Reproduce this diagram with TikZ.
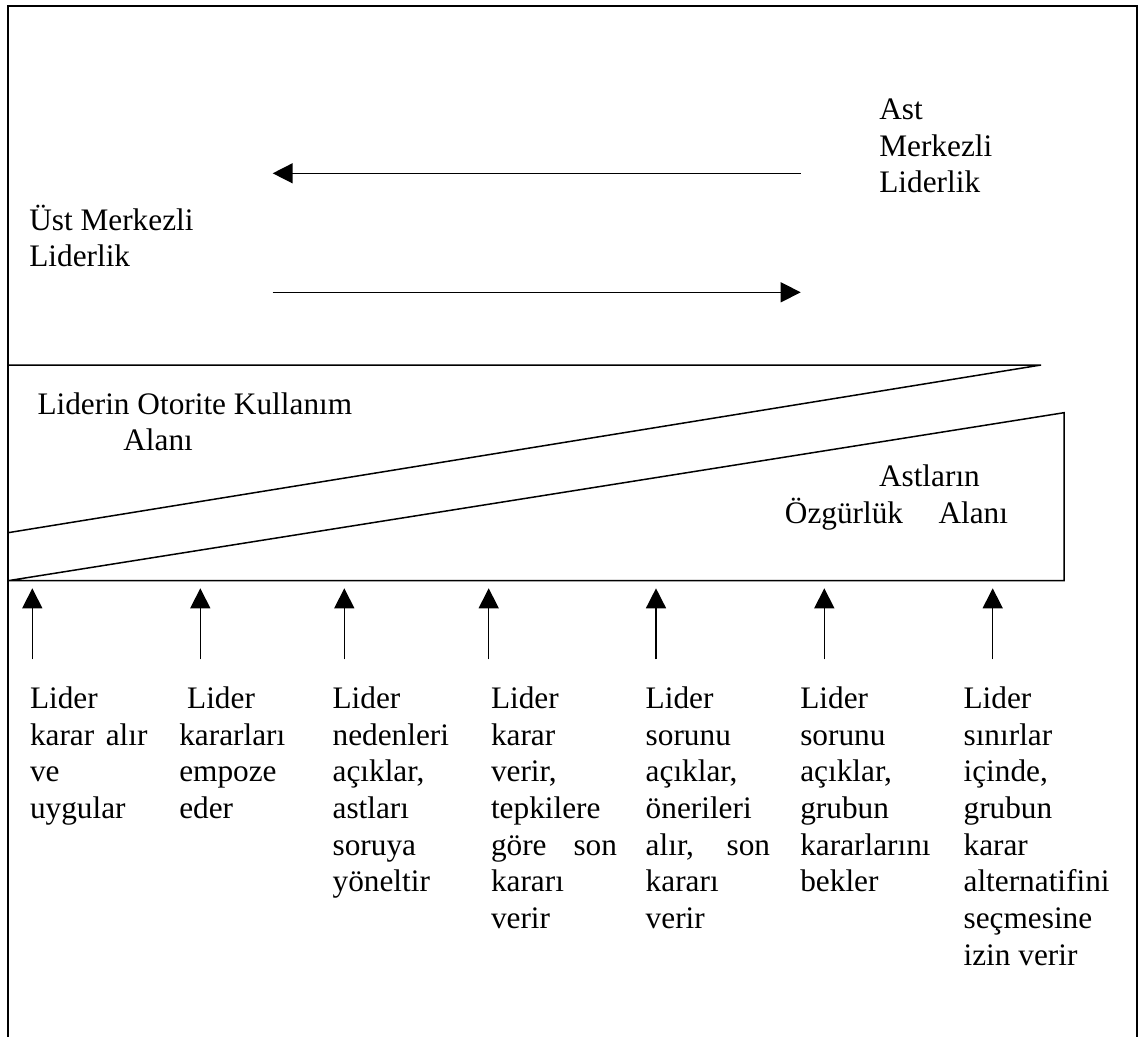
\documentclass[tikz,border=0pt]{standalone}
\usepackage{fontspec}
\setmainfont{Liberation Serif}
\usetikzlibrary{arrows.meta}
\tikzset{
  lbl/.style={anchor=base west, inner sep=0pt, outer sep=0pt, font=\fontsize{31.3}{36.7}\selectfont},
  thinline/.style={line width=1.5pt, line join=miter},
  frameline/.style={line width=2pt},
  arr/.style={line width=1.5pt, -{Triangle[length=20pt,width=20pt]}}
}
\newcommand{\blk}[1]{\parbox[t]{400pt}{#1}}
\begin{document}
\begin{tikzpicture}[x=1pt,y=-1pt]
\useasboundingbox (0,0) rectangle (1139,1036);
% outer frame
\coordinate (fbl) at (8,1040);
\coordinate (ftl) at (8,6);
\coordinate (ftr) at (1136.5,6);
\coordinate (fbr) at (1136.5,1040);
\draw[frameline] (fbl) -- (ftl) -- (ftr) -- (fbr);
% horizontal arrows
\coordinate (a1s) at (800.7,173.3);
\coordinate (a1e) at (272.7,173.3);
\coordinate (a2s) at (272.7,292.3);
\coordinate (a2e) at (800.7,292.3);
\draw[arr] (a1s) -- (a1e);
\draw[arr] (a2s) -- (a2e);
% upper wedge
\coordinate (w1) at (8,365);
\coordinate (w2) at (1041,365);
\coordinate (w3) at (8,532.7);
\draw[thinline] (w1) -- (w2) -- (w3);
% lower trapezoid
\coordinate (t1) at (8,580.7);
\coordinate (t2) at (1064,412.7);
\coordinate (t3) at (1064,580.7);
\draw[thinline] (t1) -- (t2) -- (t3) -- cycle;
% up arrows
\foreach \i/\x in {1/32.3,2/200.3,3/344.3,4/488.7,5/656,6/824.3,7/992.7}{
  \coordinate (u\i s) at (\x,659.3);
  \coordinate (u\i e) at (\x,588.3);
  \draw[arr] (u\i s) -- (u\i e);
}
% top texts
\node[lbl] (ust) at (29.3,230) {\blk{Üst Merkezli\\Liderlik}};
\node[lbl] (ast) at (879.3,119.3) {\blk{Ast\\Merkezli\\Liderlik}};
\node[lbl] (otor) at (37.5,414) {\blk{Liderin Otorite Kullanım\\\hspace*{85.9pt}Alanı}};
\node[lbl] (ozg) at (784.9,486.7) {\blk{\hspace*{94.1pt}Astların\\Özgürlük\hspace{35.4pt}Alanı}};
% column texts
\node[lbl] (c1) at (30,708.3) {\blk{Lider\\\makebox[117.5pt][s]{karar alır}\\ve\\uygular}};
\node[lbl] (c2) at (179.3,708.3) {\blk{~Lider\\kararları\\empoze\\eder}};
\node[lbl] (c3) at (332.6,708.3) {\blk{Lider\\nedenleri\\açıklar,\\astları\\soruya\\yöneltir}};
\node[lbl] (c4) at (491,708.3) {\blk{Lider\\karar\\verir,\\tepkilere\\\makebox[126pt][s]{göre son}\\kararı\\verir}};
\node[lbl] (c5) at (645.7,708.3) {\blk{Lider\\sorunu\\açıklar,\\önerileri\\\makebox[124.4pt][s]{alır, son}\\kararı\\verir}};
\node[lbl] (c6) at (800.3,708.3) {\blk{Lider\\sorunu\\açıklar,\\grubun\\kararlarını\\bekler}};
\node[lbl] (c7) at (963.6,708.3) {\blk{Lider\\sınırlar\\içinde,\\grubun\\karar\\alternatifini\\seçmesine\\izin verir}};
\end{tikzpicture}
\end{document}
